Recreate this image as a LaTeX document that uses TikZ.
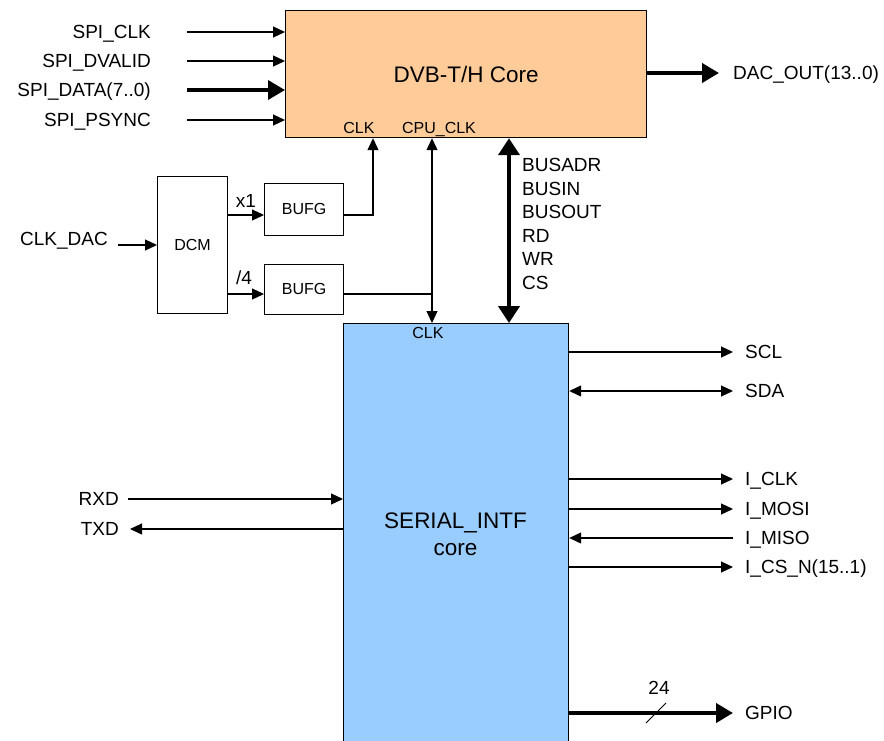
\documentclass[tikz,border=0pt]{standalone}
\usepackage{fontspec}
\setmainfont{Liberation Sans}
\usetikzlibrary{arrows.meta}
\definecolor{dvbfill}{HTML}{FFCC99}
\definecolor{serfill}{HTML}{99CCFF}

\begin{document}
\begin{tikzpicture}[x=1pt, y=-1pt,
    lbl/.style={font=\fontsize{19}{22}\selectfont, inner sep=0pt, text height=13.5pt, text depth=0pt},
    port/.style={font=\fontsize{16}{19}\selectfont, inner sep=0pt, text height=11.5pt, text depth=0pt},
    title/.style={font=\fontsize{22.5}{27}\selectfont, align=center},
    blk/.style={draw, line width=1.2pt, inner sep=0pt},
    sig/.style={line width=1.2pt, -{Triangle[length=12pt,width=11pt]}},
    fat/.style={line width=4pt, -{Triangle[length=17pt,width=19pt]}}]
  \useasboundingbox (0,0) rectangle (884,740);

  % the two cores
  \node[blk, fill=dvbfill, minimum width=361, minimum height=127, anchor=north west] (dvb) at (285,10) {};
  \node[title] (dvbname) at (dvb.center) {DVB-T/H Core};
  \node[blk, fill=serfill, minimum width=225, minimum height=425, anchor=north west] (serial) at (343,323) {};
  \node[title] (sername) at (455.5,534) {SERIAL\_INTF\\core};
  \node[port] (dvbclk) at (359,128) {CLK};
  \node[port] (dvbcpu) at (439,128) {CPU\_CLK};
  \node[port] (serclk) at (428,333) {CLK};

  % SPI inputs
  \foreach \y/\n/\t in {32/spiclk/SPI\_CLK, 61/spidv/SPI\_DVALID, 120/spips/SPI\_PSYNC} {
    \node[lbl, anchor=east] (\n) at (151,\y) {\t};
    \draw[sig] ([xshift=36]\n.east) -- (\n -| dvb.west);
  }
  \node[lbl, anchor=east] (spidata) at (151,90) {SPI\_DATA(7..0)};
  \draw[fat, line width=3.5pt] ([xshift=36]spidata.east) -- (spidata -| dvb.west);
  \node[lbl, anchor=west] (dacout) at (733,73) {DAC\_OUT(13..0)};
  \draw[fat] (dacout -| dvb.east) -- ([xshift=-14]dacout.west);

  % clocking
  \node[blk, minimum width=70, minimum height=137, anchor=north west] (dcm) at (157,176) {};
  \node[port] (dcmname) at (dcm.center) {DCM};
  \node[blk, minimum width=79, minimum height=52, anchor=north west] (bufga) at (264,183) {};
  \node[port] (bufganame) at ([yshift=1]bufga.center) {BUFG};
  \node[blk, minimum width=79, minimum height=50, anchor=north west] (bufgb) at (264,264) {};
  \node[port] (bufgbname) at ([yshift=1]bufgb.center) {BUFG};
  \node[lbl, anchor=east] (clkdac) at (108,239) {CLK\_DAC};
  \draw[sig] (118,245) -- (dcm.west |- 0,245);
  \coordinate (xone) at (dcm.east |- 0,215);
  \coordinate (xfour) at (dcm.east |- 0,294);
  \node[lbl] (xonetxt) at (246,201) {x1};
  \node[lbl] (xfourtxt) at (244,278) {/4};
  \draw[sig] (xone) -- (xone -| bufga.west);
  \draw[sig] (xfour) -- (xfour -| bufgb.west);
  \draw[sig] (xone -| bufga.east) -| (dvb.south -| 373,0);
  \draw[sig, {Triangle[length=12pt,width=11pt]}-{Triangle[length=12pt,width=11pt]}] (dvb.south -| 432,0) -- (serial.north -| 432,0);
  \draw[line width=1.2pt] (xfour -| bufgb.east) -- (432,294);

  % bus between the cores
  \draw[fat, {Triangle[length=17pt,width=21pt]}-{Triangle[length=17pt,width=21pt]}] (dvb.south -| 509,0) -- (serial.north -| 509,0);
  \foreach \y/\t in {165/BUSADR, 189/BUSIN, 212/BUSOUT, 236/RD, 259/WR, 283/CS}
    \node[lbl, anchor=west] (bus\t) at (522,\y) {\t};

  % serial side
  \foreach \y/\n/\t in {352/scl/SCL, 479/iclk/I\_CLK, 509/imosi/I\_MOSI, 567/icsn/I\_CS\_N(15..1)} {
    \node[lbl, anchor=west] (\n) at (745,\y) {\t};
    \draw[sig] (\n -| serial.east) -- ([xshift=-12]\n.west);
  }
  \node[lbl, anchor=west] (sda) at (745,391) {SDA};
  \draw[sig, {Triangle[length=12pt,width=11pt]}-{Triangle[length=12pt,width=11pt]}] (sda -| serial.east) -- ([xshift=-12]sda.west);
  \node[lbl, anchor=west] (imiso) at (745,538) {I\_MISO};
  \draw[sig] ([xshift=-12]imiso.west) -- (imiso -| serial.east);
  \node[lbl, anchor=west] (gpio) at (745,713) {GPIO};
  \draw[fat] (gpio -| serial.east) -- ([xshift=-12]gpio.west);
  \draw[line width=0.8pt] (646,723) -- (666,703);
  \node[lbl] (gpiow) at (659,688) {24};
  \node[lbl, anchor=east] (rxd) at (119,499) {RXD};
  \draw[sig] ([xshift=9]rxd.east) -- (rxd -| serial.west);
  \node[lbl, anchor=east] (txd) at (119,529) {TXD};
  \draw[sig] (txd -| serial.west) -- ([xshift=11]txd.east);
\end{tikzpicture}
\end{document}
